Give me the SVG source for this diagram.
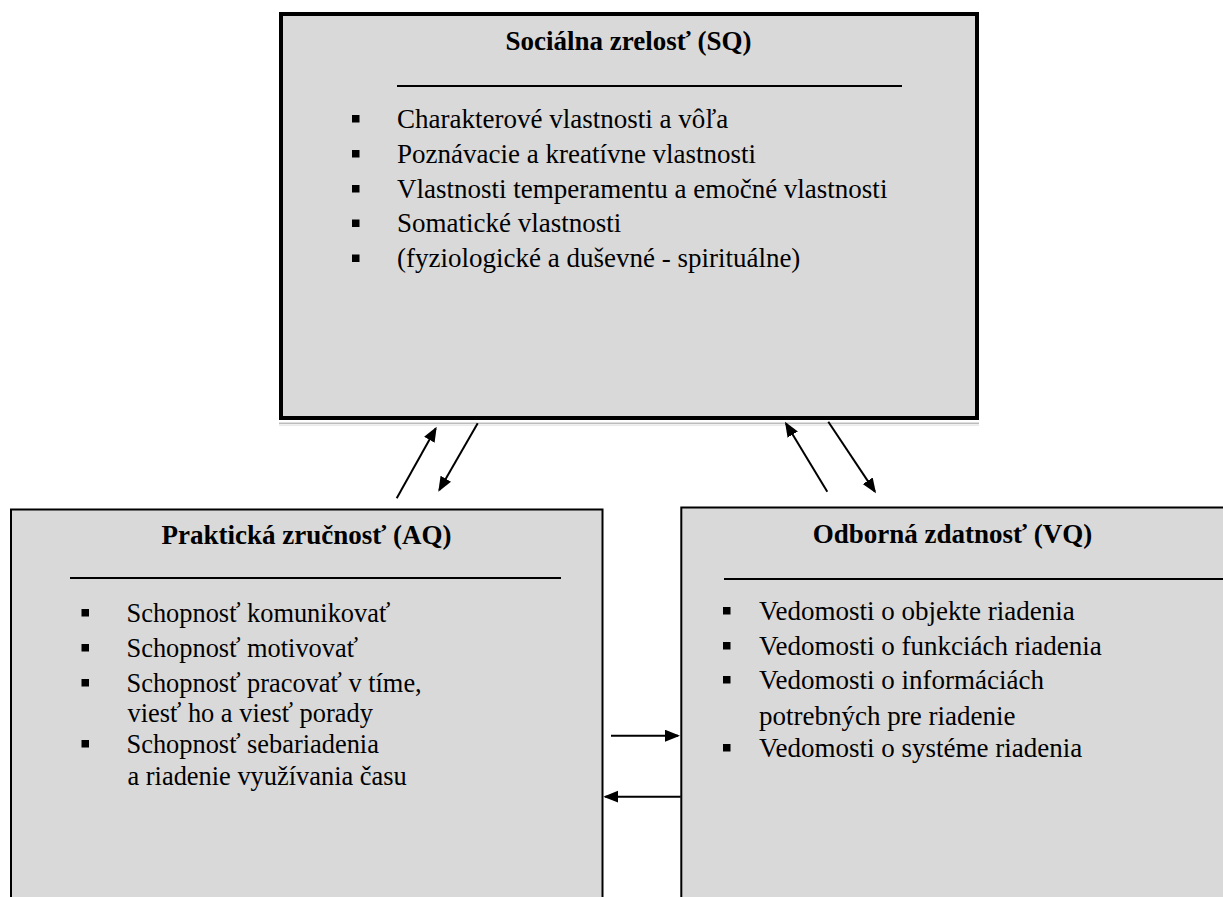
<svg xmlns="http://www.w3.org/2000/svg" width="1223" height="897" viewBox="0 0 1223 897">
  <style>
    .box { fill: #d9d9d9; stroke: #000; }
    text { font-family: 'Liberation Serif', 'DejaVu Serif', serif; font-size: 27px; fill: #000; }
    .title { font-weight: bold; text-anchor: middle; }
    #node-aq .item { font-size: 26.4px; }
    .rule { stroke: #000; stroke-width: 2; }
    .bullet { fill: #000; }
    .conn { stroke: #000; stroke-width: 2; fill: none; marker-end: url(#head); }
  </style>
  <defs>
    <marker id="head" markerUnits="userSpaceOnUse" markerWidth="16" markerHeight="13" refX="13" refY="6" orient="auto">
      <path d="M0,0 L15,6 L0,12 Z" fill="#000"/>
    </marker>
    <rect id="sq" width="7.5" height="7.5"/>
  </defs>

  <rect width="1223" height="897" fill="#fff"/>

  <!-- Social maturity (top) -->
  <g id="node-sq">
    <rect x="279" y="422.5" width="700" height="1.5" fill="#bdbdbd"/>
    <rect x="279" y="424.5" width="700" height="1.2" fill="#e2e2e2"/>
    <rect class="box" x="281" y="14" width="696" height="404" stroke-width="4"/>
    <text class="title" x="628.5" y="50">Sociálna zrelosť (SQ)</text>
    <line class="rule" x1="397" y1="86" x2="902" y2="86"/>
    <g class="bullet">
      <use href="#sq" x="352" y="115"/>
      <use href="#sq" x="352" y="150"/>
      <use href="#sq" x="352" y="185"/>
      <use href="#sq" x="352" y="219.5"/>
      <use href="#sq" x="352" y="254.5"/>
    </g>
    <text class="item" x="397" y="128">Charakterové vlastnosti a vôľa</text>
    <text class="item" x="397" y="163">Poznávacie a kreatívne vlastnosti</text>
    <text class="item" x="397" y="198">Vlastnosti temperamentu a emočné vlastnosti</text>
    <text class="item" x="397" y="232">Somatické vlastnosti</text>
    <text class="item" x="397" y="267">(fyziologické a duševné - spirituálne)</text>
  </g>

  <!-- Practical skill (left) -->
  <g id="node-aq">
    <rect class="box" x="11" y="509.5" width="591.5" height="400" stroke-width="2"/>
    <text class="title" x="306.5" y="544">Praktická zručnosť (AQ)</text>
    <line class="rule" x1="70" y1="578" x2="561" y2="578"/>
    <g class="bullet">
      <use href="#sq" x="81.5" y="609"/>
      <use href="#sq" x="81.5" y="644"/>
      <use href="#sq" x="81.5" y="679"/>
      <use href="#sq" x="81.5" y="740"/>
    </g>
    <text class="item" x="126.5" y="622">Schopnosť komunikovať</text>
    <text class="item" x="126.5" y="657">Schopnosť motivovať</text>
    <text class="item" x="126.5" y="692">Schopnosť pracovať v tíme,</text>
    <text class="item" x="127.5" y="722">viesť ho a viesť porady</text>
    <text class="item" x="126.5" y="753">Schopnosť sebariadenia</text>
    <text class="item" x="127.5" y="785">a riadenie využívania času</text>
  </g>

  <!-- Professional competence (right) -->
  <g id="node-vq">
    <rect class="box" x="681.3" y="507.5" width="600" height="400" stroke-width="2"/>
    <text class="title" x="952.5" y="543">Odborná zdatnosť (VQ)</text>
    <line class="rule" x1="724" y1="579" x2="1223" y2="579"/>
    <g class="bullet">
      <use href="#sq" x="723" y="607"/>
      <use href="#sq" x="723" y="642"/>
      <use href="#sq" x="723" y="676"/>
      <use href="#sq" x="723" y="744"/>
    </g>
    <text class="item" x="759" y="620">Vedomosti o objekte riadenia</text>
    <text class="item" x="759" y="655">Vedomosti o funkciách riadenia</text>
    <text class="item" x="759" y="689">Vedomosti o informáciách</text>
    <text class="item" x="759" y="725">potrebných pre riadenie</text>
    <text class="item" x="759" y="757">Vedomosti o systéme riadenia</text>
  </g>

  <!-- Connectors -->
  <g id="connectors">
    <line class="conn" x1="396.7" y1="498.3" x2="435.7" y2="428.4"/>
    <line class="conn" x1="477.7" y1="423.3" x2="439.3" y2="490"/>
    <line class="conn" x1="827.3" y1="491.7" x2="786" y2="423.4"/>
    <line class="conn" x1="828.3" y1="421.7" x2="874.9" y2="491.6"/>
    <line class="conn" x1="611" y1="735.7" x2="678" y2="735.7"/>
    <line class="conn" x1="680.7" y1="796.7" x2="605.3" y2="796.7"/>
  </g>
</svg>
